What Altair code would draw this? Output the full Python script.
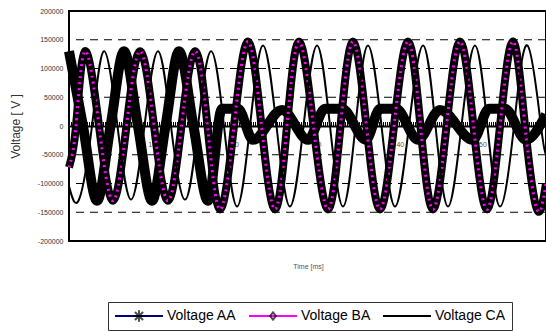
import altair as alt
import pandas as pd

names = ["Voltage AA", "Voltage BA", "Voltage CA"]

# Voltage AA (time ms, volts)
t_aa = [0.0, 1.69, 3.39, 5.02, 6.65, 8.34, 10.04, 11.67, 13.30, 15.05, 16.81,
        18.50, 20.44, 22.25, 25.76, 28.90, 30.96, 33.01, 35.91, 37.61, 39.54,
        42.20, 44.86, 48.85, 50.79, 52.72, 55.26, 57.68]
v_aa = [130000, 0, -130000, 0, 130000, 0, -130000, 0, 130000, 0, -130000,
        30000, 30000, -24000, 28000, -24000, 30000, 30000, -24000, 30000, 30000,
        -24000, 28000, -24000, 30000, 30000, -24000, 20000]

# Voltage BA
t_ba = [0.0, 0.85, 1.93, 3.63, 5.32, 6.95, 8.59, 10.28, 11.97, 13.60, 15.24,
        16.75, 18.26, 19.95, 21.64, 23.28, 24.91, 26.36, 27.81, 29.56, 31.32,
        32.83, 34.34, 35.97, 37.61, 39.30, 40.99, 42.50, 44.01, 45.65, 47.28,
        48.91, 50.54, 52.12, 53.69, 55.14, 56.59, 57.68]
v_ba = [-72000, 0, 130000, 0, -130000, 0, 130000, 0, -130000, 0, 130000,
        0, -145000, 0, 147000, 0, -145000, 0, 147000, 0, -145000,
        0, 147000, 0, -145000, 0, 147000, 0, -145000, 0, 147000,
        0, -145000, 0, 147000, 0, -145000, -100000]

# Voltage CA
t_ca = [0.0, 1.21, 2.78, 4.23, 5.86, 7.50, 9.13, 10.76, 12.33, 14.03, 15.60,
        17.17, 18.74, 20.31, 21.89, 23.46, 25.09, 26.72, 28.36, 29.99, 31.56,
        33.13, 34.64, 36.15, 37.79, 39.42, 41.11, 42.81, 44.32, 45.83, 47.46,
        49.09, 50.60, 52.12, 53.81, 55.44, 57.07, 57.68]
v_ca = [-105000, -128000, 0, 130000, 0, -128000, 0, 130000, 0, -128000, 0,
        130000, 0, -140000, 0, 140000, 0, -140000, 0, 140000, 0,
        -140000, 0, 140000, 0, -140000, 0, 140000, 0, -140000, 0,
        140000, 0, -140000, 0, 140000, 0, -50000]

x_ticks = [10, 20, 30, 40, 50]
y_ticks = [-200000, -150000, -100000, -50000, 0, 50000, 100000, 150000, 200000]
grid_vals = [-150000, -100000, -50000, 50000, 100000, 150000]

rows = []
for name, ts, vs in zip(names, [t_aa, t_ba, t_ca], [v_aa, v_ba, v_ca]):
    for t, v in zip(ts, vs):
        rows.append({"t": t, "v": v, "series": name, "series2": name})
df = pd.DataFrame(rows)
grid_df = pd.DataFrame({"v": grid_vals})

FONT = "Liberation Sans"

x_enc = alt.X(
    "t:Q",
    scale=alt.Scale(domain=[0, 57.68], nice=False, zero=False),
    axis=alt.Axis(
        values=x_ticks, tickCount=len(x_ticks), offset=-115, grid=False,
        ticks=False, tickSize=0,
        labelPadding=14, labelFontSize=7, labelColor="#555", labelFont=FONT,
        domainColor="black", domainWidth=2,
        title="Time [ms]", titleX=239, titleY=140, titleFontSize=7,
        titleFontWeight="normal", titleColor="#555", titleFont=FONT,
        titleBaseline="middle", titleAlign="center",
    ),
)
y_enc = alt.Y(
    "v:Q",
    scale=alt.Scale(domain=[-200000, 200000], nice=False),
    axis=alt.Axis(
        values=y_ticks, tickCount=len(y_ticks), grid=False, labelOverlap=False,
        domain=False, ticks=False, labelPadding=6, labelFontSize=7,
        labelColor="#333", labelFont=FONT, labelExpr="'' + datum.value",
        title="Voltage [ V ]", titleX=-54, titleY=115, titleFontSize=12,
        titleFontWeight="normal", titleColor="#333", titleFont=FONT,
        titleBaseline="middle", titleAlign="center",
    ),
)

base = alt.Chart(df)

grid = alt.Chart(grid_df).mark_rule(color="black", strokeWidth=1, strokeDash=[8, 6]).encode(
    y=y_enc
)

zero_comb = base.mark_rule(color="black", strokeWidth=3, strokeDash=[1, 1], yOffset=-2).encode(
    y=alt.datum(0)
)

aa_band = base.transform_filter(alt.datum.series == "Voltage AA").mark_line(
    color="black", strokeWidth=10, interpolate="monotone", strokeJoin="round"
).encode(x=x_enc, y=y_enc)

ba_band = base.transform_filter(alt.datum.series == "Voltage BA").mark_line(
    color="black", strokeWidth=8, interpolate="natural", strokeJoin="round"
).encode(x=x_enc, y=y_enc)

ba_dots = base.transform_filter(alt.datum.series == "Voltage BA").mark_line(
    color="#ff00ff", strokeWidth=3, strokeDash=[2, 4], interpolate="natural"
).encode(x=x_enc, y=y_enc)

ca_line = base.transform_filter(alt.datum.series == "Voltage CA").mark_line(
    strokeWidth=2, interpolate="natural"
).encode(
    x=x_enc, y=y_enc,
    color=alt.Color(
        "series:N",
        scale=alt.Scale(domain=names, range=["#000080", "#ff00ff", "#000000"]),
        legend=alt.Legend(
            title=None, orient="none", legendX=39, legendY=291, direction="horizontal",
            symbolType="stroke", symbolSize=2304, symbolStrokeWidth=2,
            labelFont=FONT, labelFontSize=14, labelColor="black", labelOffset=3,
            columnPadding=11, padding=6, strokeColor="#333", clipHeight=16,
        ),
    ),
)

aster = "M-0.24,0L0.24,0M0,-0.24L0,0.24M-0.17,-0.17L0.17,0.17M-0.17,0.17L0.17,-0.17"
diamond = "M0,-0.15L0.12,0L0,0.15L-0.12,0Z"
markers = base.transform_filter("false").mark_point(color="black", filled=False).encode(
    x=x_enc, y=y_enc,
    shape=alt.Shape(
        "series2:N",
        scale=alt.Scale(domain=names, range=[aster, diamond, "M0,0"]),
        legend=alt.Legend(
            title=None, orient="none", legendX=39, legendY=291, direction="horizontal",
            symbolSize=2304, symbolStrokeWidth=2, symbolStrokeColor="black",
            symbolFillColor="white",
            labelFont=FONT, labelFontSize=14, labelColor="transparent", labelOffset=3,
            columnPadding=11, padding=6, clipHeight=16, zindex=1,
        ),
    ),
)

chart = alt.layer(grid, zero_comb, aa_band, ba_band, ba_dots, ca_line, markers).resolve_legend(
    color="independent", shape="independent"
).properties(
    width=477, height=230, autosize="none",
    padding={"left": 69, "top": 11, "right": 0, "bottom": 90},
    background="white",
).configure_view(stroke="black", strokeWidth=2)

chart.save("out.html", embed_options={"renderer": "svg", "actions": False})
